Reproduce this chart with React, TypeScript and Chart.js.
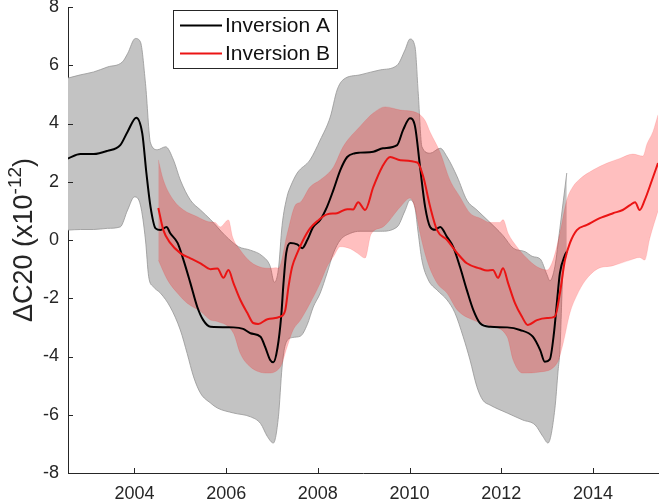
import React, { useEffect, useRef } from 'react';
import { Chart, registerables } from 'chart.js';

Chart.register(...registerables);

// ---------- data (years, ΔC20 x1e-12) ----------
const xTickYears = [2004, 2006, 2008, 2010, 2012, 2014];
const yTickValues = [-8, -6, -4, -2, 0, 2, 4, 6, 8];
const xMin = 2002.55;
const xMax = 2015.42;
const yMin = -8;
const yMax = 8;

const seriesNames = ['Inversion A', 'Inversion B'];
const yTitleMain = 'ΔC20 (x10';
const yTitleExp = '-12';
const yTitleEnd = ')';

const aMean: [number, number][] = [
  [2002.55, 2.8], [2002.82, 2.95], [2003.11, 2.95], [2003.41, 3.06], [2003.69, 3.26], [2003.85, 3.72],
  [2004.04, 4.2], [2004.17, 3.66], [2004.26, 2.3], [2004.35, 1.14], [2004.46, 0.4], [2004.57, 0.34],
  [2004.70, 0.45], [2004.78, 0.23], [2004.94, -0.1], [2005.07, -0.69], [2005.22, -1.48], [2005.37, -2.3],
  [2005.50, -2.75], [2005.66, -2.98], [2006.16, -3.0], [2006.37, -3.05], [2006.53, -3.2], [2006.75, -3.32],
  [2006.85, -3.67], [2006.96, -4.12], [2007.03, -4.2], [2007.12, -3.7], [2007.20, -2.63], [2007.25, -1.5],
  [2007.31, -0.45], [2007.40, -0.1], [2007.55, -0.15], [2007.66, -0.28], [2007.77, 0], [2007.90, 0.45],
  [2008.05, 0.69], [2008.20, 1.14], [2008.34, 1.72], [2008.49, 2.4], [2008.64, 2.85], [2008.81, 2.98],
  [2008.92, 3.0], [2009.21, 3.03], [2009.42, 3.15], [2009.73, 3.26], [2009.86, 3.78], [2010.01, 4.18],
  [2010.12, 3.9], [2010.23, 2.5], [2010.34, 1.14], [2010.45, 0.45], [2010.56, 0.35], [2010.67, 0.45],
  [2010.82, 0.1], [2010.95, -0.23], [2011.10, -0.92], [2011.25, -1.72], [2011.39, -2.4], [2011.54, -2.86],
  [2011.76, -2.98], [2012.13, -3.0], [2012.41, -3.09], [2012.69, -3.32], [2012.85, -3.78], [2012.95, -4.18],
  [2013.06, -4.1], [2013.15, -3.2], [2013.22, -2.06], [2013.28, -1.14], [2013.39, -0.52], [2013.43, -0.4],
];

const aUpper: [number, number][] = [
  [2002.55, 5.56], [2002.82, 5.67], [2003.11, 5.77], [2003.41, 5.94], [2003.74, 6.12], [2003.85, 6.4],
  [2004.02, 6.92], [2004.13, 6.8], [2004.24, 5.38], [2004.35, 3.33], [2004.50, 3.1], [2004.68, 3.2],
  [2004.85, 2.75], [2005.00, 2.06], [2005.22, 1.37], [2005.44, 1.03], [2005.66, 0.7], [2005.98, 0.15],
  [2006.27, -0.23], [2006.53, -0.35], [2006.79, -0.55], [2006.96, -0.9], [2007.05, -1.45], [2007.14, -1.0],
  [2007.22, 0.5], [2007.33, 1.5], [2007.40, 1.82], [2007.55, 2.3], [2007.83, 2.75], [2008.05, 3.43],
  [2008.27, 4.22], [2008.42, 5.15], [2008.55, 5.5], [2008.92, 5.67], [2009.36, 5.84], [2009.73, 6.0],
  [2009.90, 6.52], [2010.01, 6.9], [2010.12, 6.63], [2010.19, 5.04], [2010.27, 3.2], [2010.45, 2.98],
  [2010.67, 3.15], [2010.82, 2.85], [2011.04, 2.17], [2011.25, 1.37], [2011.47, 1.03], [2011.69, 0.7],
  [2012.04, 0.15], [2012.26, -0.28], [2012.52, -0.4], [2012.69, -0.57], [2012.85, -0.65], [2013.00, -1.2],
  [2013.06, -1.4], [2013.17, -0.92], [2013.28, 0.4], [2013.43, 2.3],
];

const aLower: [number, number][] = [
  [2002.55, 0.34], [2002.82, 0.36], [2003.11, 0.36], [2003.41, 0.4], [2003.69, 0.45], [2003.85, 1.03],
  [2004.00, 1.48], [2004.13, 1.2], [2004.24, 0.0], [2004.31, -1.26], [2004.41, -1.6], [2004.57, -1.83],
  [2004.78, -2.3], [2005.00, -3.09], [2005.15, -3.9], [2005.29, -4.7], [2005.44, -5.26], [2005.66, -5.6],
  [2005.81, -5.77], [2006.16, -5.94], [2006.53, -6.07], [2006.75, -6.3], [2006.90, -6.75], [2007.03, -6.97],
  [2007.14, -6.07], [2007.22, -4.36], [2007.29, -3.6], [2007.44, -3.35], [2007.62, -3.3], [2007.77, -2.9],
  [2007.90, -2.3], [2008.05, -1.83], [2008.20, -1.14], [2008.34, -0.45], [2008.49, 0.0], [2008.71, 0.23],
  [2008.92, 0.3], [2009.36, 0.3], [2009.73, 0.45], [2009.90, 1.0], [2010.01, 1.37], [2010.12, 1.1],
  [2010.19, 0.23], [2010.27, -0.69], [2010.41, -1.37], [2010.60, -1.72], [2010.82, -2.06], [2010.99, -2.5],
  [2011.17, -3.32], [2011.32, -4.12], [2011.47, -5.04], [2011.60, -5.5], [2011.76, -5.67], [2012.13, -5.94],
  [2012.47, -6.18], [2012.74, -6.35], [2012.91, -6.75], [2013.02, -6.97], [2013.17, -5.8], [2013.24, -4.5],
  [2013.28, -3.8], [2013.35, -1.0], [2013.43, -0.5],
];

const bMean: [number, number][] = [
  [2004.52, 1.1], [2004.63, 0.34], [2004.78, -0.1], [2005.00, -0.45], [2005.22, -0.63], [2005.44, -0.8],
  [2005.66, -1.0], [2005.81, -0.98], [2005.94, -1.3], [2006.05, -1.03], [2006.16, -1.48], [2006.31, -2.06],
  [2006.46, -2.5], [2006.59, -2.85], [2006.70, -2.88], [2006.90, -2.72], [2007.18, -2.63], [2007.29, -2.4],
  [2007.36, -1.6], [2007.44, -0.92], [2007.55, -0.45], [2007.68, 0], [2007.83, 0.4], [2007.99, 0.65],
  [2008.20, 0.88], [2008.42, 0.92], [2008.64, 1.06], [2008.77, 1.05], [2008.88, 1.3], [2009.03, 1.03],
  [2009.21, 1.82], [2009.40, 2.5], [2009.58, 2.85], [2009.80, 2.74], [2010.17, 2.66], [2010.30, 2.17],
  [2010.45, 1.14], [2010.60, 0.34], [2010.82, 0], [2011.04, -0.45], [2011.25, -0.8], [2011.54, -0.98],
  [2011.69, -1.05], [2011.82, -1.03], [2011.93, -1.3], [2012.04, -0.97], [2012.15, -1.48], [2012.30, -2.17],
  [2012.45, -2.63], [2012.58, -2.92], [2012.78, -2.75], [2013.00, -2.68], [2013.17, -2.63], [2013.28, -1.83],
  [2013.39, -0.69], [2013.50, -0.1], [2013.65, 0.34], [2013.87, 0.52], [2014.15, 0.75], [2014.44, 0.92],
  [2014.65, 1.03], [2014.81, 1.2], [2014.92, 1.3], [2015.02, 1.03], [2015.13, 1.37], [2015.29, 2.06],
  [2015.42, 2.64],
];

const bUpper: [number, number][] = [
  [2004.52, 2.75], [2004.63, 2.06], [2004.85, 1.37], [2005.07, 1.03], [2005.37, 0.8], [2005.61, 0.63],
  [2005.76, 0.6], [2005.87, 0.45], [2006.05, 0.69], [2006.14, 0.1], [2006.31, -0.35], [2006.53, -0.75],
  [2006.79, -0.95], [2006.96, -0.97], [2007.09, -0.95], [2007.14, -0.97], [2007.33, 0.2], [2007.51, 1.2],
  [2007.62, 1.3], [2007.83, 1.82], [2008.05, 2.06], [2008.34, 2.5], [2008.55, 3.2], [2008.92, 3.9],
  [2009.21, 4.36], [2009.47, 4.57], [2009.80, 4.46], [2010.17, 4.36], [2010.34, 4.1], [2010.45, 3.7],
  [2010.67, 3.0], [2010.88, 2.06], [2011.10, 1.48], [2011.32, 0.92], [2011.54, 0.75], [2011.76, 0.6],
  [2011.97, 0.6], [2012.04, 0.7], [2012.15, 0.23], [2012.34, -0.23], [2012.56, -0.63], [2012.78, -0.92],
  [2013.00, -1.03], [2013.13, -0.69], [2013.28, 0.23], [2013.43, 1.37], [2013.56, 1.82], [2013.72, 2.1],
  [2014.00, 2.4], [2014.31, 2.64], [2014.59, 2.8], [2014.87, 2.95], [2015.09, 2.88], [2015.18, 3.3],
  [2015.31, 3.72], [2015.42, 4.3],
];

const bLower: [number, number][] = [
  [2004.52, -0.69], [2004.72, -1.37], [2004.94, -1.83], [2005.15, -2.17], [2005.44, -2.45], [2005.66, -2.75],
  [2005.81, -2.8], [2006.16, -3.2], [2006.31, -3.9], [2006.53, -4.36], [2006.90, -4.57], [2007.18, -4.36],
  [2007.33, -3.67], [2007.46, -3.09], [2007.62, -2.75], [2007.83, -2.17], [2008.05, -1.48], [2008.20, -0.92],
  [2008.34, -0.57], [2008.49, -0.23], [2008.71, -0.3], [2008.86, -0.45], [2009.03, -0.62], [2009.16, 0.2],
  [2009.42, 0.45], [2009.80, 1.14], [2010.01, 1.44], [2010.12, 1.1], [2010.23, 0.23], [2010.38, -0.69],
  [2010.60, -1.48], [2010.82, -1.83], [2011.04, -2.4], [2011.39, -2.75], [2011.76, -2.95], [2012.13, -3.32],
  [2012.26, -4.12], [2012.47, -4.57], [2012.85, -4.53], [2013.22, -4.22], [2013.35, -3.55], [2013.50, -2.5],
  [2013.65, -1.9], [2013.83, -1.4], [2014.09, -1.0], [2014.44, -0.88], [2014.81, -0.69], [2015.02, -0.6],
  [2015.13, -0.69], [2015.24, 0.05], [2015.42, 1.0],
];

// ---------- styles ----------
const FONT = '"Liberation Sans", Arial, Helvetica, sans-serif';
const AXIS_COLOR = '#262626';
const GRAY_FILL = 'rgb(195,195,195)';
const GRAY_EDGE = 'rgba(150,150,150,0.8)';
const PINK_FILL = 'rgba(255,0,0,0.25)';
const BLACK_LINE = '#000000';
const RED_LINE = 'rgb(235,20,20)';

const toPts = (arr: [number, number][]) => arr.map(([x, y]) => ({ x, y }));

const decorPlugin = {
  id: 'decor',
  afterDraw(chart: any) {
    const { ctx, chartArea, scales } = chart;
    const xs = scales.x;
    const ys = scales.y;
    ctx.save();
    // inward tick marks (MATLAB style)
    ctx.strokeStyle = AXIS_COLOR;
    ctx.lineWidth = 1;
    ctx.beginPath();
    for (const v of xTickYears) {
      const px = Math.round(xs.getPixelForValue(v)) + 0.5;
      ctx.moveTo(px, chartArea.bottom);
      ctx.lineTo(px, chartArea.bottom - 5);
    }
    for (const v of yTickValues) {
      const py = Math.round(ys.getPixelForValue(v)) + 0.5;
      ctx.moveTo(chartArea.left, py);
      ctx.lineTo(chartArea.left + 5, py);
    }
    ctx.stroke();

    // y-axis title with superscript
    const mainFont = `27px ${FONT}`;
    const supFont = `19px ${FONT}`;
    ctx.font = mainFont;
    const w1 = ctx.measureText(yTitleMain).width;
    const w3 = ctx.measureText(yTitleEnd).width;
    ctx.font = supFont;
    const w2 = ctx.measureText(yTitleExp).width;
    const total = w1 + w2 + w3;
    ctx.translate(32, (chartArea.top + chartArea.bottom) / 2);
    ctx.rotate(-Math.PI / 2);
    ctx.fillStyle = AXIS_COLOR;
    ctx.textBaseline = 'alphabetic';
    ctx.textAlign = 'left';
    let cx = -total / 2;
    ctx.font = mainFont;
    ctx.fillText(yTitleMain, cx, 0);
    cx += w1;
    ctx.font = supFont;
    ctx.fillText(yTitleExp, cx, -11);
    cx += w2;
    ctx.font = mainFont;
    ctx.fillText(yTitleEnd, cx, 0);
    ctx.setTransform(1, 0, 0, 1, 0, 0);

    // legend box
    const lx = 173.5, ly = 10.5, lw = 164, lh = 58;
    ctx.fillStyle = '#ffffff';
    ctx.fillRect(lx, ly, lw, lh);
    ctx.strokeStyle = AXIS_COLOR;
    ctx.lineWidth = 1;
    ctx.strokeRect(lx, ly, lw, lh);
    const rows = [
      { name: seriesNames[0], color: BLACK_LINE, y: 25.5 },
      { name: seriesNames[1], color: RED_LINE, y: 53.5 },
    ];
    ctx.font = `21px ${FONT}`;
    ctx.textBaseline = 'middle';
    for (const r of rows) {
      ctx.strokeStyle = r.color;
      ctx.lineWidth = 2;
      ctx.beginPath();
      ctx.moveTo(180, r.y);
      ctx.lineTo(222, r.y);
      ctx.stroke();
      ctx.fillStyle = '#111111';
      ctx.fillText(r.name, 225, r.y + 1);
    }
    ctx.restore();
  },
};

const lineCommon = {
  pointRadius: 0,
  pointHoverRadius: 0,
  cubicInterpolationMode: 'monotone' as const,
};

export default function App() {
  const canvasRef = useRef<HTMLCanvasElement | null>(null);

  useEffect(() => {
    document.body.style.margin = '0';
    const canvas = canvasRef.current;
    if (!canvas) return;
    const chart = new Chart(canvas, {
      type: 'line',
      data: {
        datasets: [
          {
            ...lineCommon,
            label: 'A upper',
            data: toPts(aUpper),
            borderColor: GRAY_EDGE,
            borderWidth: 1,
            backgroundColor: GRAY_FILL,
            fill: '+1',
            order: 6,
          },
          {
            ...lineCommon,
            label: 'A lower',
            data: toPts(aLower),
            borderColor: GRAY_EDGE,
            borderWidth: 1,
            backgroundColor: GRAY_FILL,
            fill: false,
            order: 5,
          },
          {
            ...lineCommon,
            label: 'B upper',
            data: toPts(bUpper),
            borderColor: 'rgba(255,0,0,0.12)',
            borderWidth: 1,
            backgroundColor: PINK_FILL,
            fill: '+1',
            order: 4,
          },
          {
            ...lineCommon,
            label: 'B lower',
            data: toPts(bLower),
            borderColor: 'rgba(255,0,0,0.12)',
            borderWidth: 1,
            backgroundColor: PINK_FILL,
            fill: false,
            order: 3,
          },
          {
            ...lineCommon,
            label: seriesNames[0],
            data: toPts(aMean),
            borderColor: BLACK_LINE,
            borderWidth: 2,
            fill: false,
            order: 2,
          },
          {
            ...lineCommon,
            label: seriesNames[1],
            data: toPts(bMean),
            borderColor: RED_LINE,
            borderWidth: 2,
            fill: false,
            order: 1,
          },
        ],
      },
      options: {
        animation: false,
        responsive: false,
        devicePixelRatio: 1,
        layout: { padding: { top: 7, right: 8, left: 0, bottom: 0 } },
        plugins: {
          legend: { display: false },
          tooltip: { enabled: false },
          title: { display: false },
        },
        scales: {
          x: {
            type: 'linear',
            min: xMin,
            max: xMax,
            grid: { display: false, drawTicks: false },
            border: { display: true, color: AXIS_COLOR, width: 1 },
            ticks: {
              color: AXIS_COLOR,
              font: { family: FONT, size: 18 },
              padding: 10,
              maxRotation: 0,
              autoSkip: false,
              callback: (v: any) => String(v),
            },
            afterBuildTicks: (scale: any) => {
              scale.ticks = xTickYears.map((v) => ({ value: v }));
            },
            afterFit: (scale: any) => {
              scale.height = 30;
              scale.paddingLeft = 0;
              scale.paddingRight = 0;
            },
          },
          y: {
            type: 'linear',
            min: yMin,
            max: yMax,
            grid: { display: false, drawTicks: false },
            border: { display: true, color: AXIS_COLOR, width: 1 },
            ticks: {
              color: AXIS_COLOR,
              font: { family: FONT, size: 18 },
              padding: 9,
              autoSkip: false,
              callback: (v: any) => String(v),
            },
            afterBuildTicks: (scale: any) => {
              scale.ticks = yTickValues.map((v) => ({ value: v }));
            },
            afterFit: (scale: any) => {
              scale.width = 68;
              scale.paddingTop = 0;
              scale.paddingBottom = 0;
            },
          },
        },
      },
      plugins: [decorPlugin],
    });
    return () => chart.destroy();
  }, []);

  return (
    <div style={{ width: 666, height: 503, background: '#fff' }}>
      <canvas ref={canvasRef} width={666} height={503} style={{ display: 'block' }} />
    </div>
  );
}
